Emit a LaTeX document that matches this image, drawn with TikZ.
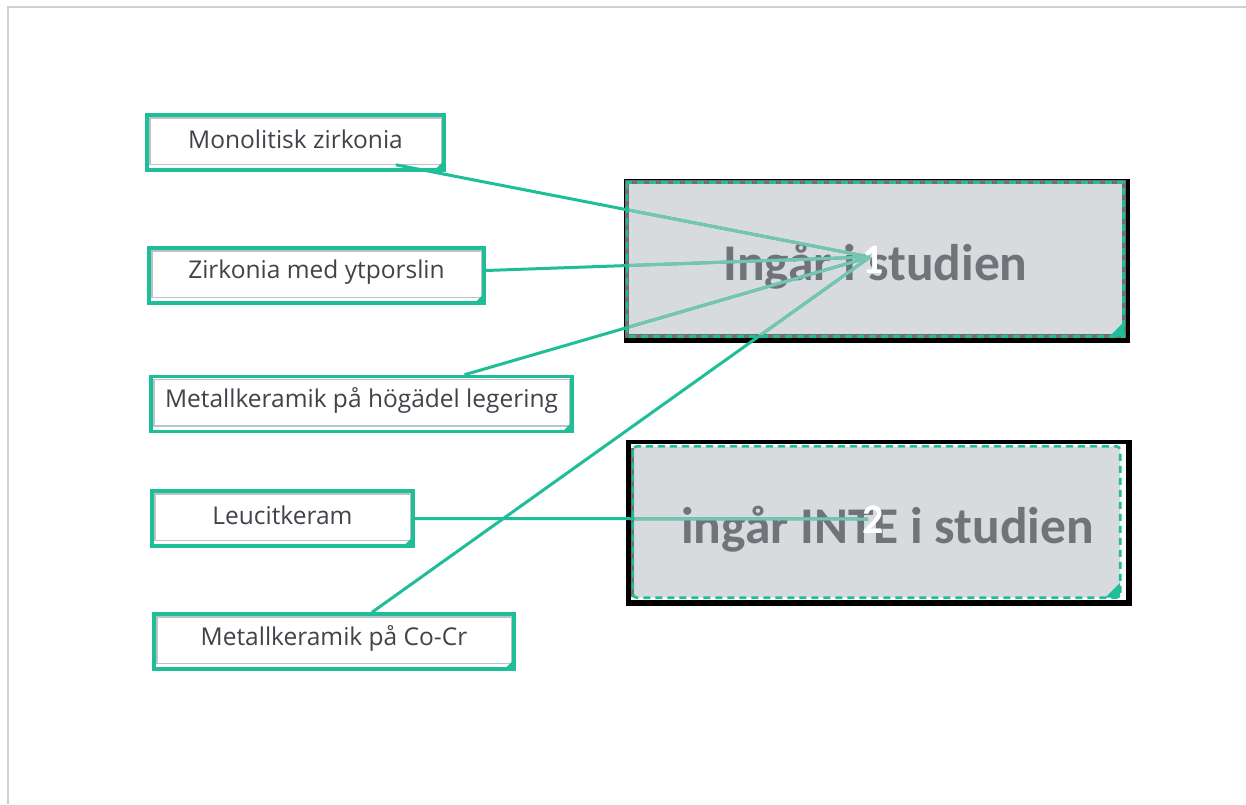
\documentclass[tikz,border=0pt]{standalone}
\usepackage{fontspec}
\setmainfont{Open Sans}
\newfontfamily\calib{Carlito}
\usetikzlibrary{calc}
\definecolor{teal1}{RGB}{30,190,152}
\definecolor{lteal}{RGB}{118,196,178}
\definecolor{boxgray}{RGB}{216,219,222}
\definecolor{bordgray}{RGB}{112,112,112}
\definecolor{txtgray}{RGB}{112,116,120}
\definecolor{lbl}{RGB}{66,66,74}
\definecolor{framegray}{RGB}{208,208,208}
\definecolor{shadowgray}{RGB}{190,194,200}
\tikzset{
  item/.style={draw=teal1, line width=3.5pt, fill=white, inner sep=0pt, minimum height=55pt},
  itemtext/.style={font=\fontsize{24.5}{27}\selectfont, text=lbl, inner sep=0pt},
  innerbox/.style={draw=shadowgray, line width=1.5pt},
  corner/.style={fill=teal1},
  bigbox/.style={fill=black, draw=none, inner sep=0pt, minimum width=506pt, minimum height=164pt},
  bigtext/.style={font=\calib\bfseries\fontsize{51.5}{56}\selectfont, text=txtgray, inner sep=0pt, anchor=base},
  numtext/.style={font=\calib\bfseries\fontsize{42}{46}\selectfont, text=white, inner sep=0pt, anchor=base},
  conn/.style={line width=3pt},
  graybord/.style={fill=boxgray, draw=bordgray, line width=4pt},
  tealdash/.style={draw=teal1, line width=2.6pt, dash pattern=on 7pt off 5pt},
}
\newcommand{\itembox}[5]{%
  \node[item, minimum width=#3] (#1) at (#2) {};
  \draw[innerbox] ($(#1.north west)+(4.5,4.5)$) rectangle ($(#1.south east)+(-4.5,-7.5)$);
  \fill[corner] ($(#1.south east)+(-1.5,-1.5)$) -- +(-10,0) -- +(0,-10) -- cycle;
  \node[itemtext] (#4) at ($(#1.center)+(0,-3.5)$) {#5};
}
\newcommand{\conns}[1]{%
  \draw[conn, #1] ($(b1.south east)+(-50,-7)$) -- (h1);
  \draw[conn, #1] ($(b2.east)+(0,-5)$) -- (h1);
  \draw[conn, #1] ($(b3.north)+(103,0)$) -- (h1);
  \draw[conn, #1] ($(b5.north)+(38,0)$) -- (h1);
  \draw[conn, #1] (b4.east) -- (h2);
}
\begin{document}
\begin{tikzpicture}[x=1pt,y=-1pt]
\useasboundingbox (0,0) rectangle (1246,804);
\draw[framegray, line width=1.5pt] (8,804) -- (8,7) -- (1246,7);

% left items
\itembox{b1}{295.5,142.5}{297pt}{t1}{Monolitisk zirkonia}
\itembox{b2}{316.5,275.5}{335pt}{t2}{Zirkonia med ytporslin}
\itembox{b3}{361.5,404}{421pt}{t3}{Metallkeramik på högädel legering}
\itembox{b4}{282.5,518.5}{261pt}{t4}{Leucitkeram}
\itembox{b5}{334,641.5}{360pt}{t5}{Metallkeramik på Co-Cr}

% box 1
\node[bigbox] (in1) at (876.5,261) {};
\draw[graybord] ($(in1.north west)+(3.5,3.5)$) rectangle ($(in1.south east)+(-6,-7)$);
\draw[tealdash] ($(in1.north west)+(3.5,3.5)$) rectangle ($(in1.south east)+(-6,-7)$);
\fill[corner] ($(in1.south east)+(-5.5,-6.5)$) -- +(-15,0) -- +(0,-15) -- cycle;
\node[bigtext] (l1) at (875.5,280) {Ingår i studien};

% box 2
\node[bigbox, minimum height=166pt] (in2) at (879,522.5) {};
\fill[white] ($(in2.north west)+(5,5)$) rectangle ($(in2.south east)+(-6,-6)$);
\fill[boxgray, rounded corners=4pt] ($(in2.north west)+(7,7)$) rectangle ($(in2.south east)+(-12,-8)$);
\draw[bordgray, line width=3pt] ($(in2.north west)+(7,9)$) -- ($(in2.south west)+(7,-9)$);
\draw[tealdash, rounded corners=4pt] ($(in2.north west)+(7,7)$) rectangle ($(in2.south east)+(-12,-8)$);
\fill[corner] ($(in2.south east)+(-12,-8)$) -- +(-15,0) -- +(0,-15) -- cycle;
\node[bigtext] (l2) at (887.5,543) {ingår INTE i studien};

% hubs
\coordinate (h1) at (870,257);
\coordinate (h2) at (868,519);

\conns{teal1}
\begin{scope}
  \clip ($(in1.north west)+(6,6)$) rectangle ($(in1.south east)+(-8,-9)$);
  \conns{lteal}
\end{scope}
\begin{scope}
  \clip ($(in2.north west)+(9,9)$) rectangle ($(in2.south east)+(-14,-10)$);
  \conns{lteal}
\end{scope}

\node[numtext] (n1) at (873,273) {1};
\node[numtext] (n2) at (873,533) {2};
\end{tikzpicture}
\end{document}
